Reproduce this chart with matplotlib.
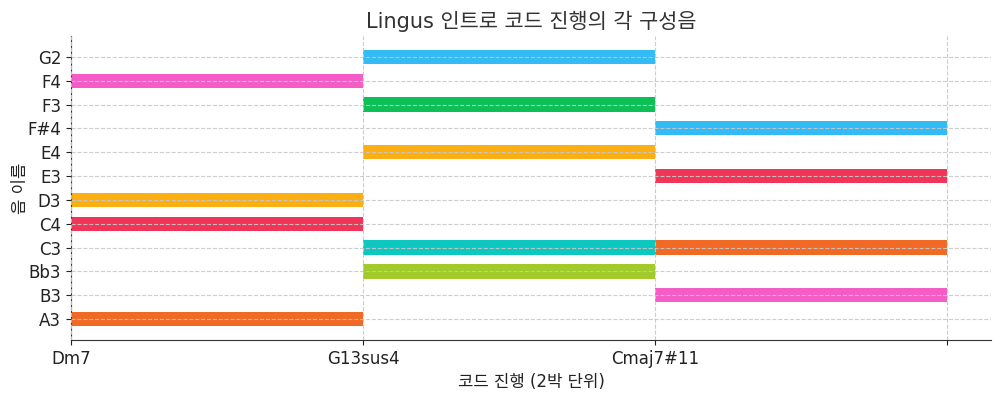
import matplotlib
matplotlib.use('Agg')
import matplotlib.pyplot as plt

plt.rcParams['font.family'] = ['DejaVu Sans', 'Noto Sans CJK KR']

# chord labels on the x axis (each chord lasts 2 beats -> one unit)
chords = ['Dm7', 'G13sus4', 'Cmaj7#11', '']

# note names on the y axis, bottom to top
notes = ['A3', 'B3', 'Bb3', 'C3', 'C4', 'D3', 'E3', 'E4', 'F#4', 'F3', 'F4', 'G2']

# bars: note, chord index (start), colour
bar_notes = ['F4', 'D3', 'C4', 'A3',
             'G2', 'F3', 'E4', 'C3', 'Bb3',
             'F#4', 'E3', 'C3', 'B3']
bar_starts = [0, 0, 0, 0,
              1, 1, 1, 1, 1,
              2, 2, 2, 2]
bar_colors = ['#F55CC5', '#FBAF12', '#F03558', '#F06A25',
              '#33BBF5', '#0DBF57', '#FBAF12', '#0CC8C0', '#A2CB2A',
              '#33BBF5', '#F03558', '#F06A25', '#F55CC5']

fig, ax = plt.subplots(figsize=(10, 3.94), dpi=100)

ypos = [notes.index(n) for n in bar_notes]
ax.barh(ypos, [1] * len(ypos), left=bar_starts, height=0.6, color=bar_colors, zorder=1)

ax.set_yticks(range(len(notes)))
ax.set_yticklabels(notes, fontsize=12)
ax.set_xticks(range(len(chords)))
ax.set_xticklabels(chords, fontsize=12)
ax.set_xlim(0, 3.15)
ax.set_ylim(-0.88, len(notes) - 1 + 0.88)

ax.grid(True, linestyle='--', color='#c8c8c8', linewidth=0.8, alpha=0.9, zorder=2)
ax.set_axisbelow(False)

for s in ['top', 'right']:
    ax.spines[s].set_visible(False)
ax.spines['left'].set_color('#333333')
ax.spines['bottom'].set_color('#333333')
ax.tick_params(colors='#222222')

ax.set_title('Lingus 인트로 코드 진행의 각 구성음', fontsize=15, color='#333333')
ax.set_xlabel('코드 진행 (2박 단위)', fontsize=12, color='#222222')
ax.set_ylabel('음 이름', fontsize=12, color='#222222', labelpad=-1)

fig.subplots_adjust(left=0.071, right=0.991, bottom=0.137, top=0.909)
plt.savefig('out.png')
